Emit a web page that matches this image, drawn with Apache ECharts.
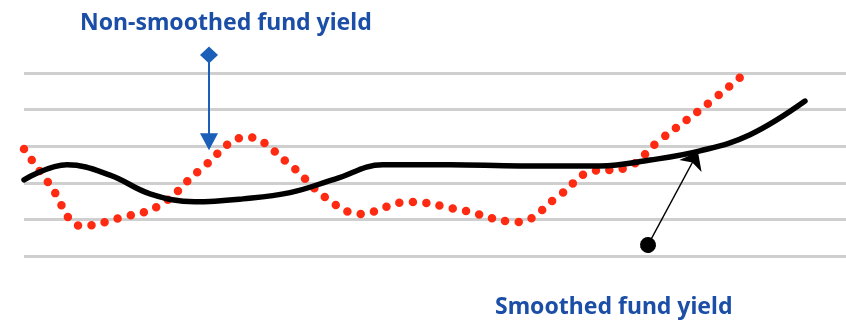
<!DOCTYPE html>
<html>
<head>
<meta charset="utf-8">
<script src="https://cdn.jsdelivr.net/npm/echarts@6/dist/echarts.min.js"></script>
<style>
  html, body { margin: 0; padding: 0; background: #fff; }
  #chart { width: 846px; height: 321px; }
</style>
</head>
<body>
<div id="chart"></div>
<script>
// positions along the horizontal axis (arbitrary time units)
const rawX = [24, 50, 82, 120, 160, 200, 247, 290, 325, 360, 408, 460, 517, 560, 590, 625, 660, 700, 747];
const rawY = [2.92, 1.94, 0.82, 1.04, 1.39, 2.35, 3.25, 2.49, 1.61, 1.15, 1.48, 1.26, 0.93, 1.67, 2.30, 2.40, 3.17, 3.99, 5.03];

const smoothX = [24, 67, 110, 150, 195, 243, 290, 335, 383, 450, 520, 600, 650, 700, 750, 805];
const smoothY = [2.08, 2.49, 2.21, 1.70, 1.48, 1.56, 1.73, 2.10, 2.49, 2.49, 2.46, 2.46, 2.62, 2.87, 3.31, 4.23];

// gridline levels; the top level is only headroom for the annotation
const yTicks = [0, 1, 2, 3, 4, 5, 6];
const gridColors = ['#cfcfcf', '#cfcfcf', '#cfcfcf', '#cfcfcf', '#cfcfcf', '#cfcfcf', 'rgba(0,0,0,0)'];

// annotation pointers [x, y] in data units
const rawPointer = [[209, 5.49], [209, 3.12]];
const smoothPointer = [[648, 0.30], [698, 2.84]];

const rawData = rawX.map((x, i) => [x, rawY[i]]);
const smoothData = smoothX.map((x, i) => [x, smoothY[i]]);

const chart = echarts.init(document.getElementById('chart'));

chart.setOption({
  animation: false,
  backgroundColor: '#fff',
  grid: { left: 24, right: 0, top: 36.3, bottom: 65 },
  xAxis: {
    type: 'value',
    min: 24,
    max: 846,
    show: false
  },
  yAxis: {
    type: 'value',
    min: yTicks[0],
    max: yTicks[yTicks.length - 1],
    interval: 1,
    axisLine: { show: false },
    axisTick: { show: false },
    axisLabel: { show: false },
    splitLine: { lineStyle: { color: gridColors, width: 3 } }
  },
  graphic: [
    {
      type: 'text',
      x: 80,
      y: 23,
      style: {
        text: 'Non-smoothed fund yield',
        font: 'bold 23px "Noto Sans"',
        fill: '#1b4ea6',
        verticalAlign: 'middle'
      }
    },
    {
      type: 'text',
      x: 495,
      y: 307,
      style: {
        text: 'Smoothed fund yield',
        font: 'bold 23px "Noto Sans"',
        fill: '#1b4ea6',
        verticalAlign: 'middle'
      }
    }
  ],
  series: [
    {
      name: 'Non-smoothed fund yield',
      type: 'line',
      data: rawData,
      smooth: 0.4,
      showSymbol: false,
      clip: false,
      lineStyle: {
        color: '#ff2a12',
        width: 8.5,
        type: [0, 13.5],
        cap: 'round'
      },
      markLine: {
        silent: true,
        symbol: ['diamond', 'triangle'],
        symbolSize: [18, 17],
        label: { show: false },
        lineStyle: { color: '#1b5fb8', width: 2, type: 'solid' },
        data: [[{ coord: rawPointer[0] }, { coord: rawPointer[1] }]]
      }
    },
    {
      name: 'Smoothed fund yield',
      type: 'line',
      data: smoothData,
      smooth: 0.4,
      showSymbol: false,
      clip: false,
      lineStyle: { color: '#000', width: 5.5, cap: 'round' },
      markLine: {
        silent: true,
        symbol: ['circle', 'arrow'],
        symbolSize: [19, 16],
        label: { show: false },
        lineStyle: { color: '#000', width: 1.5, type: 'solid' },
        data: [[{ coord: smoothPointer[0] }, { coord: smoothPointer[1] }]]
      }
    }
  ]
});
</script>
</body>
</html>
